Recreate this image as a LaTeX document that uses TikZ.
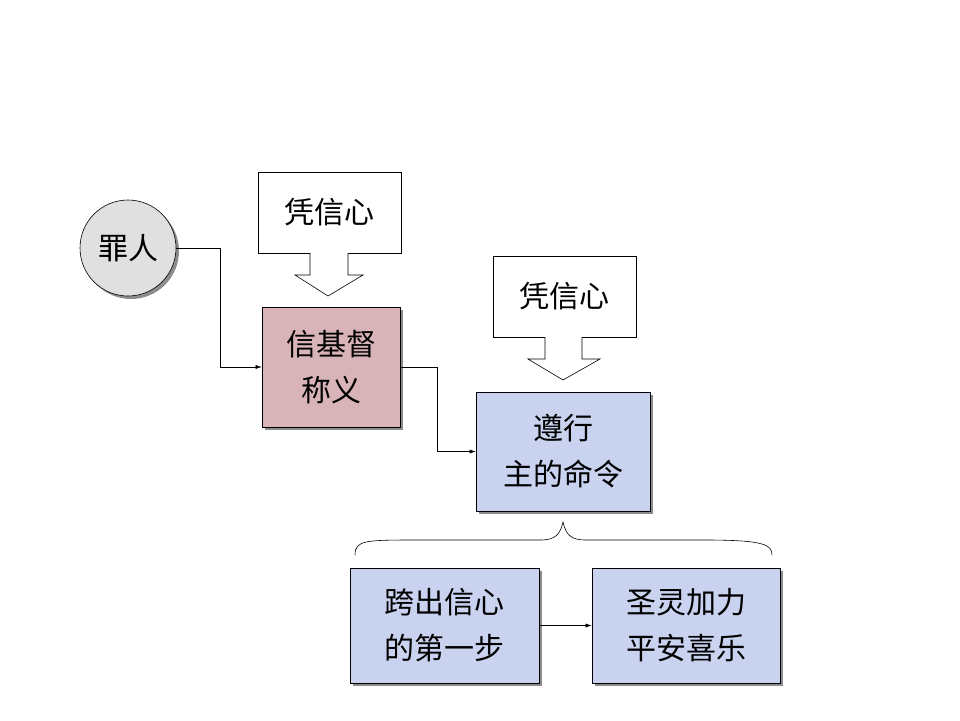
\documentclass[tikz,border=0pt]{standalone}
\usepackage{fontspec}
\setmainfont{Noto Sans CJK SC}
\usetikzlibrary{arrows.meta,decorations.pathreplacing,shadows}
\definecolor{pinkbox}{HTML}{D8B4B8}
\definecolor{bluebox}{HTML}{C9D3F0}
\begin{document}
\begin{tikzpicture}[x=1pt,y=-1pt,
  box/.style={draw=black,line width=0.6pt,align=center,font=\fontsize{30}{46}\selectfont,
    drop shadow={shadow xshift=3pt,shadow yshift=-3pt,fill=black!45,opacity=1}},
  call/.style={draw=black,line width=0.6pt,fill=white,align=center,font=\fontsize{30}{46}\selectfont},
  conn/.style={-{Latex[length=6pt,width=4pt]},line width=0.5pt}]
\useasboundingbox (0,0) rectangle (960,720);
\fill[white] (0,0) rectangle (960,720);
% circle
\node[box,circle,fill=black!12,minimum size=96pt,inner sep=0pt] (sin) at (128,248) {罪人};
% callout 1
\node[call,minimum width=143pt,minimum height=81pt] (c1) at (329.5,212.5) {凭信心};
\draw[line width=0.6pt,fill=white] (310,253) -- (310,275) -- (295,275) -- (328,296) -- (363,275) -- (348,275) -- (348,253);
% box1
\node[box,fill=pinkbox,minimum width=138pt,minimum height=120pt] (b1) at (331,367) {信基督\\称义};
% callout 2
\node[call,minimum width=143pt,minimum height=81pt] (c2) at (564.5,296.5) {凭信心};
\draw[line width=0.6pt,fill=white] (545,337) -- (545,359) -- (528,359) -- (563,380) -- (600,359) -- (582,359) -- (582,337);
% box2
\node[box,fill=bluebox,minimum width=174pt,minimum height=119pt] (b2) at (563,451.5) {遵行\\主的命令};
% brace
\draw[line width=0.6pt] (355,555) .. controls (355,540) and (365,540) .. (420,540) -- (540,540) .. controls (555,540) and (560,535) .. (563,522)
  .. controls (566,535) and (571,540) .. (586,540) -- (705,540) .. controls (765,540) and (772,545) .. (772,555);
% box3, box4
\node[box,fill=bluebox,minimum width=189pt,minimum height=115pt] (b3) at (444.5,625.5) {跨出信心\\的第一步};
\node[box,fill=bluebox,minimum width=188pt,minimum height=115pt] (b4) at (686,625.5) {圣灵加力\\平安喜乐};
% connectors
\draw[conn] (sin.east) -- (220,248) |- (b1.west);
\draw[conn] (b1.east) -- (437,367) |- (b2.west);
\draw[conn] (b3.east) -- (b4.west);
\end{tikzpicture}
\end{document}
